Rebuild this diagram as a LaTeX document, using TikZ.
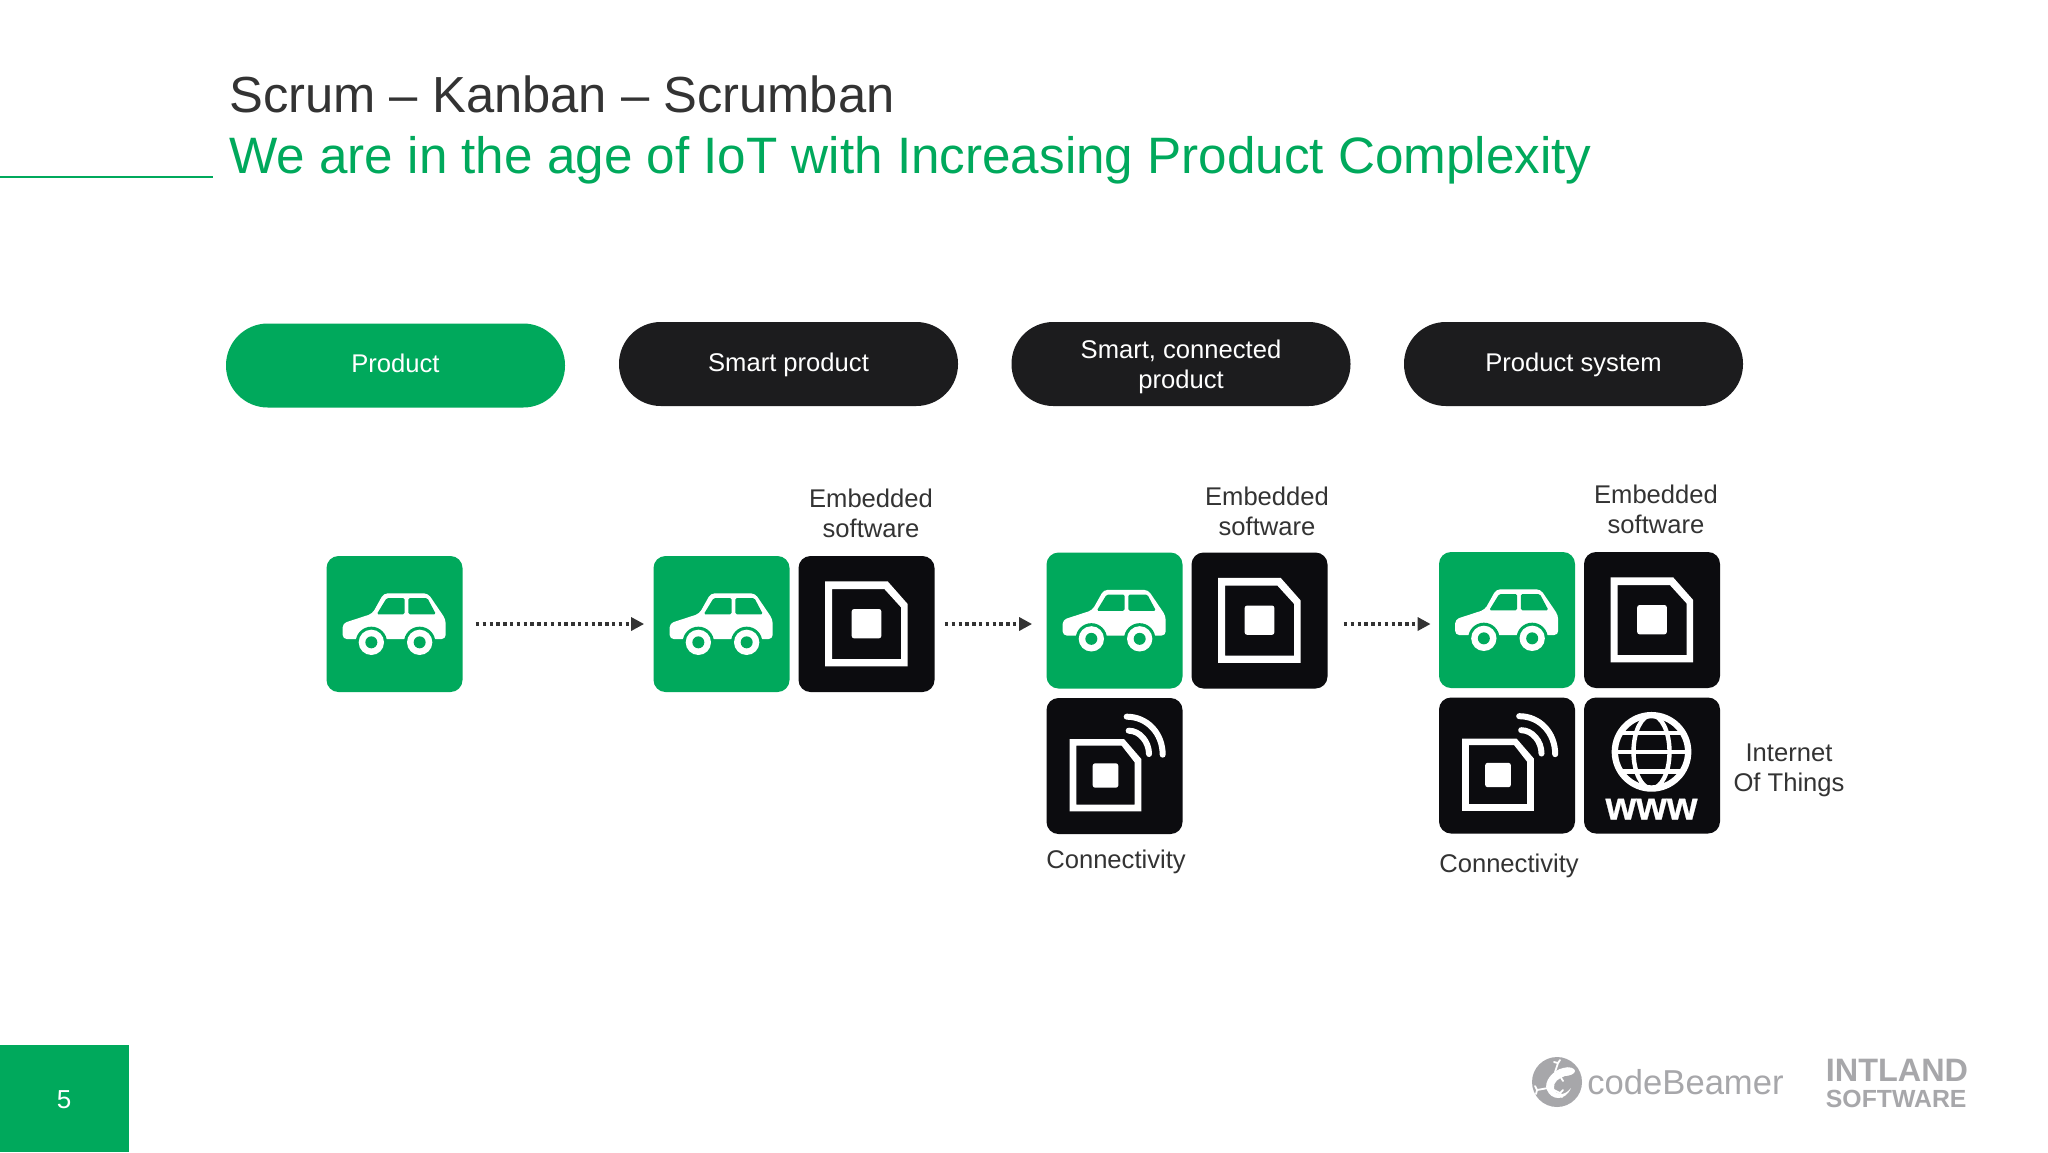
\documentclass[tikz,border=0pt]{standalone}
\usepackage{fontspec}
\setmainfont{Liberation Sans}
\usetikzlibrary{arrows.meta}
\definecolor{brandgreen}{HTML}{00A95C}
\definecolor{pillblack}{HTML}{1C1C1E}
\definecolor{tileblack}{HTML}{0C0C0F}
\definecolor{inkgray}{HTML}{333333}
\definecolor{logogray}{HTML}{A7A7AA}
\tikzset{
  tile/.style={rectangle,rounded corners=6pt,minimum width=68pt,minimum height=68pt,inner sep=0pt,fill=#1},
  pill/.style={rectangle,rounded corners=20.9pt,minimum width=169.5pt,minimum height=42pt,inner sep=0pt,fill=#1,text=white,align=center,font=\fontsize{12.8}{15}\selectfont},
  lbl/.style={inner sep=0pt,align=center,text=inkgray,font=\fontsize{12.8}{15}\selectfont},
  flow/.style={inkgray,line width=1.6pt,dash pattern=on 1.7pt off 1.7pt,-{Triangle[length=6.5pt,width=6.5pt]}},
  carIcon/.pic={
    \begin{scope}[scale=0.3333,shift={(-261.5,-240)}]
      \fill[white,rounded corners=2pt] (106,238) -- (195,209) -- (229,148) -- (362,148) -- (415,226) -- (415,285) -- (106,285) -- cycle;
      \fill[brandgreen,rounded corners=.8pt] (208,211) -- (238,162) -- (292,162) -- (292,211) -- cycle;
      \fill[brandgreen,rounded corners=.8pt] (303,162) -- (360,162) -- (386,211) -- (303,211) -- cycle;
      \foreach \wx in {192,337}{
        \fill[brandgreen] (\wx,295) circle[radius=47];
        \fill[white] (\wx,295) circle[radius=38];
        \fill[brandgreen] (\wx,295) circle[radius=18];
      }
    \end{scope}
  },
  chipIcon/.pic={
    \begin{scope}[scale=0.3333,shift={(-696.5,-240)}]
      \fill[white,even odd rule] (572,112) -- (760,112) -- (820,180) -- (820,367) -- (572,367) -- cycle
        (593,135) -- (750,135) -- (800,190) -- (800,345) -- (593,345) -- cycle;
      \fill[white,rounded corners=1.2pt] (652,195) rectangle (741,283);
    \end{scope}
  },
  radioIcon/.pic={
    \begin{scope}[scale=0.3333,shift={(-261.5,-676)}]
      \fill[white,even odd rule] (127,595) -- (290,595) -- (342,655) -- (342,812) -- (127,812) -- cycle
        (147,615) -- (283,615) -- (322,665) -- (322,792) -- (147,792) -- cycle;
      \fill[white,rounded corners=1.2pt] (196,668) rectangle (273,741);
      \draw[white,line width=3pt,line cap=round] (298,528) .. controls (360,528) and (406,578) .. (406,642);
      \draw[white,line width=3pt,line cap=round] (304,570) .. controls (338,570) and (365,604) .. (365,640);
    \end{scope}
  },
  globeIcon/.pic={
    \begin{scope}[scale=0.3333,shift={(-696.5,-676)}]
      \draw[white,line width=3.2pt] (695,635) circle[radius=110];
      \draw[white,line width=2.2pt] (695,635) ellipse[x radius=54,y radius=110];
      \draw[white,line width=2.1pt] (585,636) -- (805,636);
      \draw[white,line width=2.1pt] (600,579) -- (790,579);
      \draw[white,line width=2.1pt] (600,694) -- (790,694);
      \node[inner sep=0pt,text=white,font=\bfseries\fontsize{19.7}{20}\selectfont\addfontfeatures{FakeBold=0.6}] (wwwtext) at (695,807) {www};
    \end{scope}
  }
}
\begin{document}
\begin{tikzpicture}[x=0.5pt,y=-0.5pt]
\useasboundingbox[fill=white] (0,0) rectangle (2048,1152);

% header
\draw[brandgreen,line width=1pt] (0,177) -- (213,177);
\node[anchor=base west,inner sep=0pt,text=inkgray,font=\fontsize{25.35}{30}\selectfont] (title) at (229,112.5) {Scrum – Kanban – Scrumban};
\node[anchor=base west,inner sep=0pt,text=brandgreen,font=\fontsize{25.6}{30}\selectfont] (subtitle) at (229,173) {We are in the age of IoT with Increasing Product Complexity};

% stage pills
\node[pill=brandgreen] (p1) at (395.5,365.5) {\rule[-2.6pt]{0pt}{1pt}Product};
\node[pill=pillblack] (p2) at (788.5,364) {\rule{0pt}{10.5pt}Smart product};
\node[pill=pillblack] (p3) at (1181,364) {\rule{0pt}{11.8pt}Smart, connected\\product};
\node[pill=pillblack] (p4) at (1573.5,364) {\rule{0pt}{10.5pt}Product system};

% group 1
\node[tile=brandgreen] (c1) at (394.5,624) {};
\pic at (c1.center) {carIcon};

% group 2
\node[tile=brandgreen] (c2) at (721.5,624) {};
\pic at (c2.center) {carIcon};
\node[tile=tileblack] (s2) at (866.5,624) {};
\pic at (s2.center) {chipIcon};
\node[lbl] (e2) at (871,513) {Embedded\\software};

% group 3
\node[tile=brandgreen] (c3) at (1114.5,620.5) {};
\pic at (c3.center) {carIcon};
\node[tile=tileblack] (s3) at (1259.5,620.5) {};
\pic at (s3.center) {chipIcon};
\node[tile=tileblack] (r3) at (1114.5,766) {};
\pic at (r3.center) {radioIcon};
\node[lbl] (e3) at (1267,511) {Embedded\\software};
\node[lbl] (k3) at (1116,861.5) {Connectivity};

% group 4
\node[tile=brandgreen] (c4) at (1507,620) {};
\pic at (c4.center) {carIcon};
\node[tile=tileblack] (s4) at (1652,620) {};
\pic at (s4.center) {chipIcon};
\node[tile=tileblack] (r4) at (1507,765.5) {};
\pic at (r4.center) {radioIcon};
\node[tile=tileblack] (g4) at (1652,765.5) {};
\pic at (g4.center) {globeIcon};
\node[lbl] (e4) at (1656,509) {Embedded\\software};
\node[lbl] (k4) at (1509,865.5) {Connectivity};
\node[lbl] (i4) at (1789,770.5) {Internet\\Of Things};

% flow arrows
\draw[flow,shorten <=6.5pt,shorten >=4.5pt] (c1.east) -- (c2.west);
\draw[flow,shorten <=5pt,shorten >=7pt] (s2.east) -- (c3.west |- s2.east);
\draw[flow,shorten <=8pt,shorten >=4pt] (s3.east |- s2.east) -- (c4.west |- s2.east);

% page number
\fill[brandgreen] (0,1045) rectangle (129,1152);
\node[inner sep=0pt,text=white,font=\fontsize{13}{15}\selectfont] (pageno) at (64,1100) {5};

% logos
\node[circle,fill=logogray,minimum size=25pt,inner sep=0pt] (gecko) at (1557,1082) {};
\begin{scope}[shift={(gecko.center)}]
  \fill[white] (6,-14) .. controls (-4,-12) and (-14,0) .. (-10,8) .. controls (-6,18) and (8,20) .. (14,6)
     .. controls (7,15) and (-2,13) .. (-3,6) .. controls (-4,0) and (2,-4) .. (8,-6)
     .. controls (12,-6) and (18,-8) .. (18,-11) .. controls (18,-14) and (12,-16) .. (6,-14) -- cycle;
  \draw[white,line width=.9pt,line cap=round] (-2,-10) -- (1,-19) (1,-19) -- (-3,-20) (1,-19) -- (3,-22)
     (3,-6) -- (6,-1) (-9,6) -- (-20,8) (-20,8) -- (-22,4) (-20,8) -- (-21,12)
     (-3,8) -- (3,11) (3,11) -- (6,8) (3,11) -- (5,15);
\end{scope}
\node[anchor=base west,inner sep=0pt,text=logogray,font=\fontsize{17.3}{20}\selectfont] (cb) at (1587,1094) {codeBeamer};
\node[anchor=base west,inner sep=0pt,text=logogray,font=\bfseries\fontsize{16.2}{18}\selectfont] (il) at (1825.5,1081) {INTLAND};
\node[anchor=base west,inner sep=0pt,text=logogray,font=\bfseries\fontsize{12.4}{14}\selectfont] (sw) at (1825.5,1107) {SOFTWARE};
\end{tikzpicture}
\end{document}
